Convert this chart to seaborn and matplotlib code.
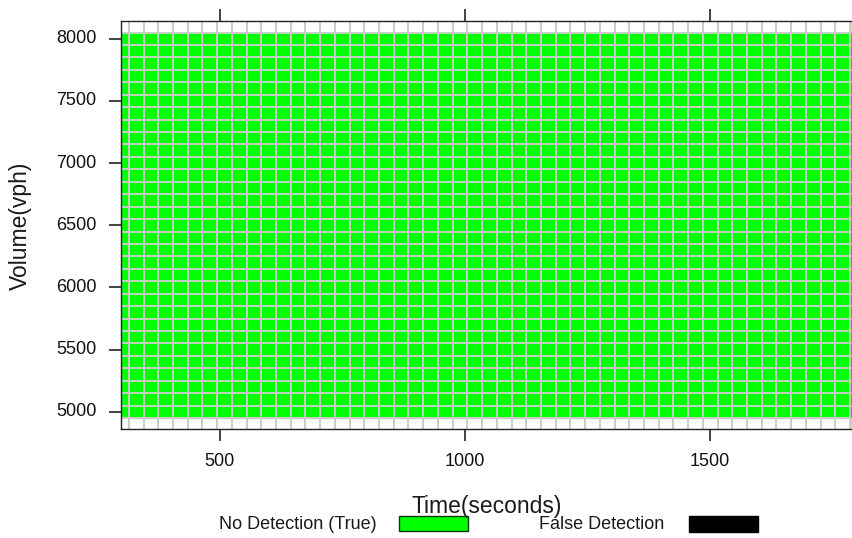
import numpy as np
import pandas as pd
import matplotlib
matplotlib.use("Agg")
import matplotlib.pyplot as plt
from matplotlib.colors import ListedColormap
from matplotlib.patches import Rectangle
import seaborn as sns

# ---------------- data ----------------
time_points = list(range(300, 1801, 30))            # seconds (cell centres)
volume_levels = [8100, 8000, 7900, 7800, 7700, 7600, 7500, 7400, 7300, 7200,
                 7100, 7000, 6900, 6800, 6700, 6600, 6500, 6400, 6300, 6200,
                 6100, 6000, 5900, 5800, 5700, 5600, 5500, 5400, 5300, 5200,
                 5100, 5000, 4900]                   # vph (cell centres), top -> bottom
# detection status for each volume row: 0 = no data, 1 = no detection (true), 2 = false detection
row_status = [0] + [1] * 31 + [0]
x_ticks = [500, 1000, 1500]
y_ticks = [5000, 5500, 6000, 6500, 7000, 7500, 8000]
legend_labels = ["No Detection (True)", "False Detection"]
legend_colors = ["#00ff00", "#000000"]

# ---------------- build table ----------------
status = pd.DataFrame([[s] * len(time_points) for s in row_status],
                      index=volume_levels, columns=time_points)

plt.rcParams['font.family'] = ['Liberation Sans', 'DejaVu Sans']

W, H = 853, 538
fig = plt.figure(figsize=(W / 100, H / 100), dpi=100)
ax = fig.add_axes([121 / W, 1 - 429 / H, (852 - 121) / W, (429 - 20.7) / H])

cmap = ListedColormap(["#ffffff", "#00ff00", "#000000"])
sns.heatmap(status, ax=ax, cmap=cmap, vmin=-0.5, vmax=2.5, cbar=False,
            linewidths=0, square=False)

# cell borders (one line per cell boundary)
n_rows, n_cols = status.shape
ax.vlines(np.arange(n_cols + 1), 0, n_rows, colors="#c6cec6",
          linewidth=1.4, snap=True, zorder=3)
ax.hlines(np.arange(n_rows + 1), 0, n_cols, colors="#c6cec6",
          linewidth=1.4, snap=True, zorder=3)

# map data values to heatmap cell coordinates
dt = time_points[1] - time_points[0]
dv = volume_levels[0] - volume_levels[1]
def xpos(v):
    return (np.asarray(v, dtype=float) - (time_points[0] - dt / 2)) / dt
def ypos(v):
    return ((volume_levels[0] + dv / 2) - np.asarray(v, dtype=float)) / dv

ax.set_xlim(xpos(299), xpos(1789))
ax.set_ylim(ypos(4862), ypos(8145))

ax.set_xticks(xpos(x_ticks))
ax.set_xticklabels([str(t) for t in x_ticks], rotation=0)
ax.set_yticks(ypos(y_ticks))
ax.set_yticklabels([str(t) for t in y_ticks], rotation=0)
ax.set_xlabel("")
ax.set_ylabel("")

for s in ax.spines.values():
    s.set_visible(True)
    s.set_color("#222222")
    s.set_linewidth(1.0)
    s.set_zorder(4)

ax.tick_params(axis='both', direction='out', length=8.5, width=1.1,
               color="#111111", labelsize=13, pad=9, labelcolor="#111111")
ax.tick_params(axis='x', top=True, labeltop=False, bottom=True)
ax.tick_params(axis='y', left=True, right=False)

# axis titles
fig.text(486.5 / W, 1 - 513 / H, "Time(seconds)", ha='center', va='baseline',
         fontsize=16.5, color="#1a1a1a")
fig.text(20 / W, 1 - 226 / H, "Volume(vph)", ha='center', va='center',
         rotation=90, fontsize=16.5, color="#1a1a1a")

# legend below the plot
base = 1 - 529 / H
fig.text(377 / W, base, legend_labels[0], ha='right', va='baseline',
         fontsize=13, color="#1a1a1a")
fig.add_artist(Rectangle((399 / W, 1 - 531 / H), 69 / W, 15 / H,
                         transform=fig.transFigure, facecolor=legend_colors[0],
                         edgecolor="#0a3a0a", linewidth=1.0))
fig.text(664 / W, base, legend_labels[1], ha='right', va='baseline',
         fontsize=13, color="#1a1a1a")
fig.add_artist(Rectangle((689 / W, 1 - 532 / H), 69 / W, 16 / H,
                         transform=fig.transFigure, facecolor=legend_colors[1],
                         edgecolor="#000000", linewidth=1.0))

fig.savefig("out.png", dpi=100)
